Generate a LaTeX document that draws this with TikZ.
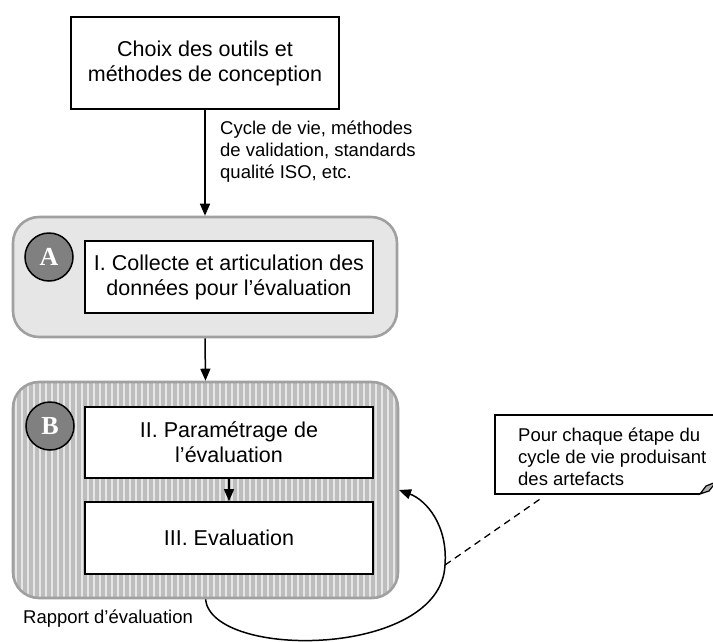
\documentclass[tikz,border=0pt]{standalone}
\usepackage{fontspec}
\setmainfont{Liberation Sans}
\newfontfamily\letterfont{Liberation Serif}
\usetikzlibrary{arrows.meta}
\definecolor{panelfill}{HTML}{E6E6E6}
\definecolor{panelborder}{HTML}{A0A0A0}
\definecolor{stripebase}{HTML}{BDBDBD}
\definecolor{stripelight}{HTML}{E6E6E6}
\definecolor{badgefill}{HTML}{808080}
\definecolor{foldfill}{HTML}{B0B0B0}
\begin{document}
\begin{tikzpicture}[x=1pt,y=-1pt,
  boxtxt/.style={font=\fontsize{21.5}{25}\selectfont, align=center},
  plainbox/.style={draw=black, line width=1.9pt, fill=white, boxtxt, inner sep=0pt},
  smalltxt/.style={font=\fontsize{18.5}{22}\selectfont, align=left, inner sep=0pt},
  badge/.style={circle, draw=black, line width=1.5pt, fill=badgefill, minimum size=48pt,
    inner sep=0pt, text=white, font=\letterfont\bfseries\fontsize{26}{26}\selectfont},
  flow/.style={line width=1.5pt, -{Triangle[length=12pt,width=10pt]}},
  panel/.style={draw=panelborder, line width=2.6pt, rounded corners=26pt, inner sep=0pt}
]
\useasboundingbox (0,0) rectangle (713,641);

% top box
\node[plainbox, minimum width=268pt, minimum height=92pt] (tools) at (205,63)
  {Choix des outils et\\méthodes de conception};
\node[smalltxt, anchor=west] (lbl) at (220,152)
  {Cycle de vie, méthodes\\de validation, standards\\qualité ISO, etc.};

% panel A
\node[panel, fill=panelfill, minimum width=384pt, minimum height=120pt] (pA) at (205,277) {};
\node[plainbox, minimum width=288pt, minimum height=72pt] (s1) at (229,277)
  {I. Collecte et articulation des\\données pour l’évaluation};
\node[badge] (bA) at (49,257) {A};

% panel B with vertical stripes
\begin{scope}
  \clip[rounded corners=26pt] (13,382) rectangle (398,598);
  \fill[stripebase] (13,382) rectangle (398,598);
  \foreach \i in {0,...,64}
    \draw[stripelight, line width=1.2pt] ({16+6*\i},382) -- ({16+6*\i},598);
\end{scope}
\node[panel, minimum width=385pt, minimum height=216pt] (pB) at (205.5,490) {};
\node[plainbox, minimum width=288pt, minimum height=71pt] (s2) at (229,442.5)
  {II. Paramétrage de\\l’évaluation};
\node[plainbox, minimum width=288pt, minimum height=72pt] (s3) at (229,538)
  {III. Evaluation};
\node[badge] (bB) at (50,426) {B};

% flow arrows
\draw[flow] (tools.south) -- (pA.north);
\draw[flow] (pA.south) -- (pB.north);
\draw[flow] (s2.south) -- (s3.north);

% report loop
\node[smalltxt, anchor=west] (rep) at (23,619) {Rapport d’évaluation};
\coordinate (bend) at (445,565);
\coordinate (entry) at (399,490);
\draw[line width=1.5pt] (pB.south) .. controls (212,660) and (441,658) .. (bend);
\draw[flow] (bend) .. controls (448,525) and (426,500) .. (entry);

% note
\node[smalltxt, anchor=west] (notetxt) at (518,457)
  {Pour chaque étape du\\cycle de vie produisant\\des artefacts};
\draw[line width=1.5pt] (700,494) -- (495,494) -- (495,415) -- (720,415);
\draw[line width=1.2pt, fill=foldfill] (700,494) -- (706,486) -- (716,482) -- (709,491) -- cycle;
\coordinate (notefoot) at (543,497);
\draw[line width=1.3pt, dash pattern=on 7pt off 5pt] (bend) -- (notefoot);
\end{tikzpicture}
\end{document}
